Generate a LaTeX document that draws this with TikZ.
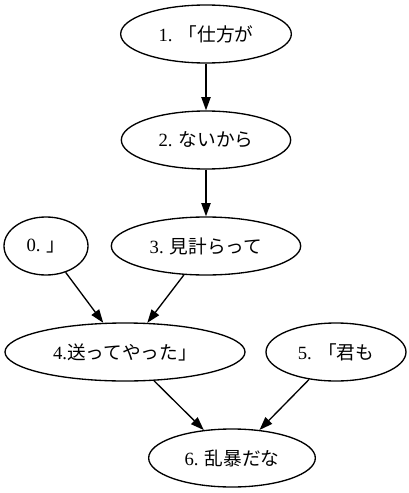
\documentclass[tikz,border=0pt]{standalone}
\usepackage{fontspec}
\setmainfont{Liberation Serif}
\newfontfamily\jp{Noto Sans CJK JP}
\usetikzlibrary{shapes.geometric,arrows.meta}
\tikzset{
  gnode/.style={draw, ellipse, line width=1pt, inner sep=0pt, minimum height=43.5pt,
    font=\fontsize{14}{17}\selectfont},
  gedge/.style={draw, line width=1pt, -{Triangle[length=10pt,width=7pt]}}
}
\begin{document}
\begin{tikzpicture}[x=0.75pt,y=-0.75pt]
\useasboundingbox (0,0) rectangle (409,493);
\node[gnode, minimum width=128pt] (n1) at (206,34) {1. {\jp 「仕方が}};
\node[gnode, minimum width=127pt] (n2) at (206,140) {2. {\jp ないから}};
\node[gnode, minimum width=63pt] (n0) at (46,246) {0. {\jp 」}};
\node[gnode, minimum width=142pt] (n3) at (206,246) {3. {\jp 見計らって}};
\node[gnode, minimum width=180pt] (n4) at (125,352) {4.{\jp 送ってやった」}};
\node[gnode, minimum width=105pt] (n5) at (336,352) {5. {\jp 「君も}};
\node[gnode, minimum width=125pt] (n6) at (232,458) {6. {\jp 乱暴だな}};
\draw[gedge] (n1) -- (n2);
\draw[gedge] (n2) -- (n3);
\draw[gedge] (n0) -- (n4);
\draw[gedge] (n3) -- (n4);
\draw[gedge] (n4) -- (n6);
\draw[gedge] (n5) -- (n6);
\end{tikzpicture}
\end{document}
